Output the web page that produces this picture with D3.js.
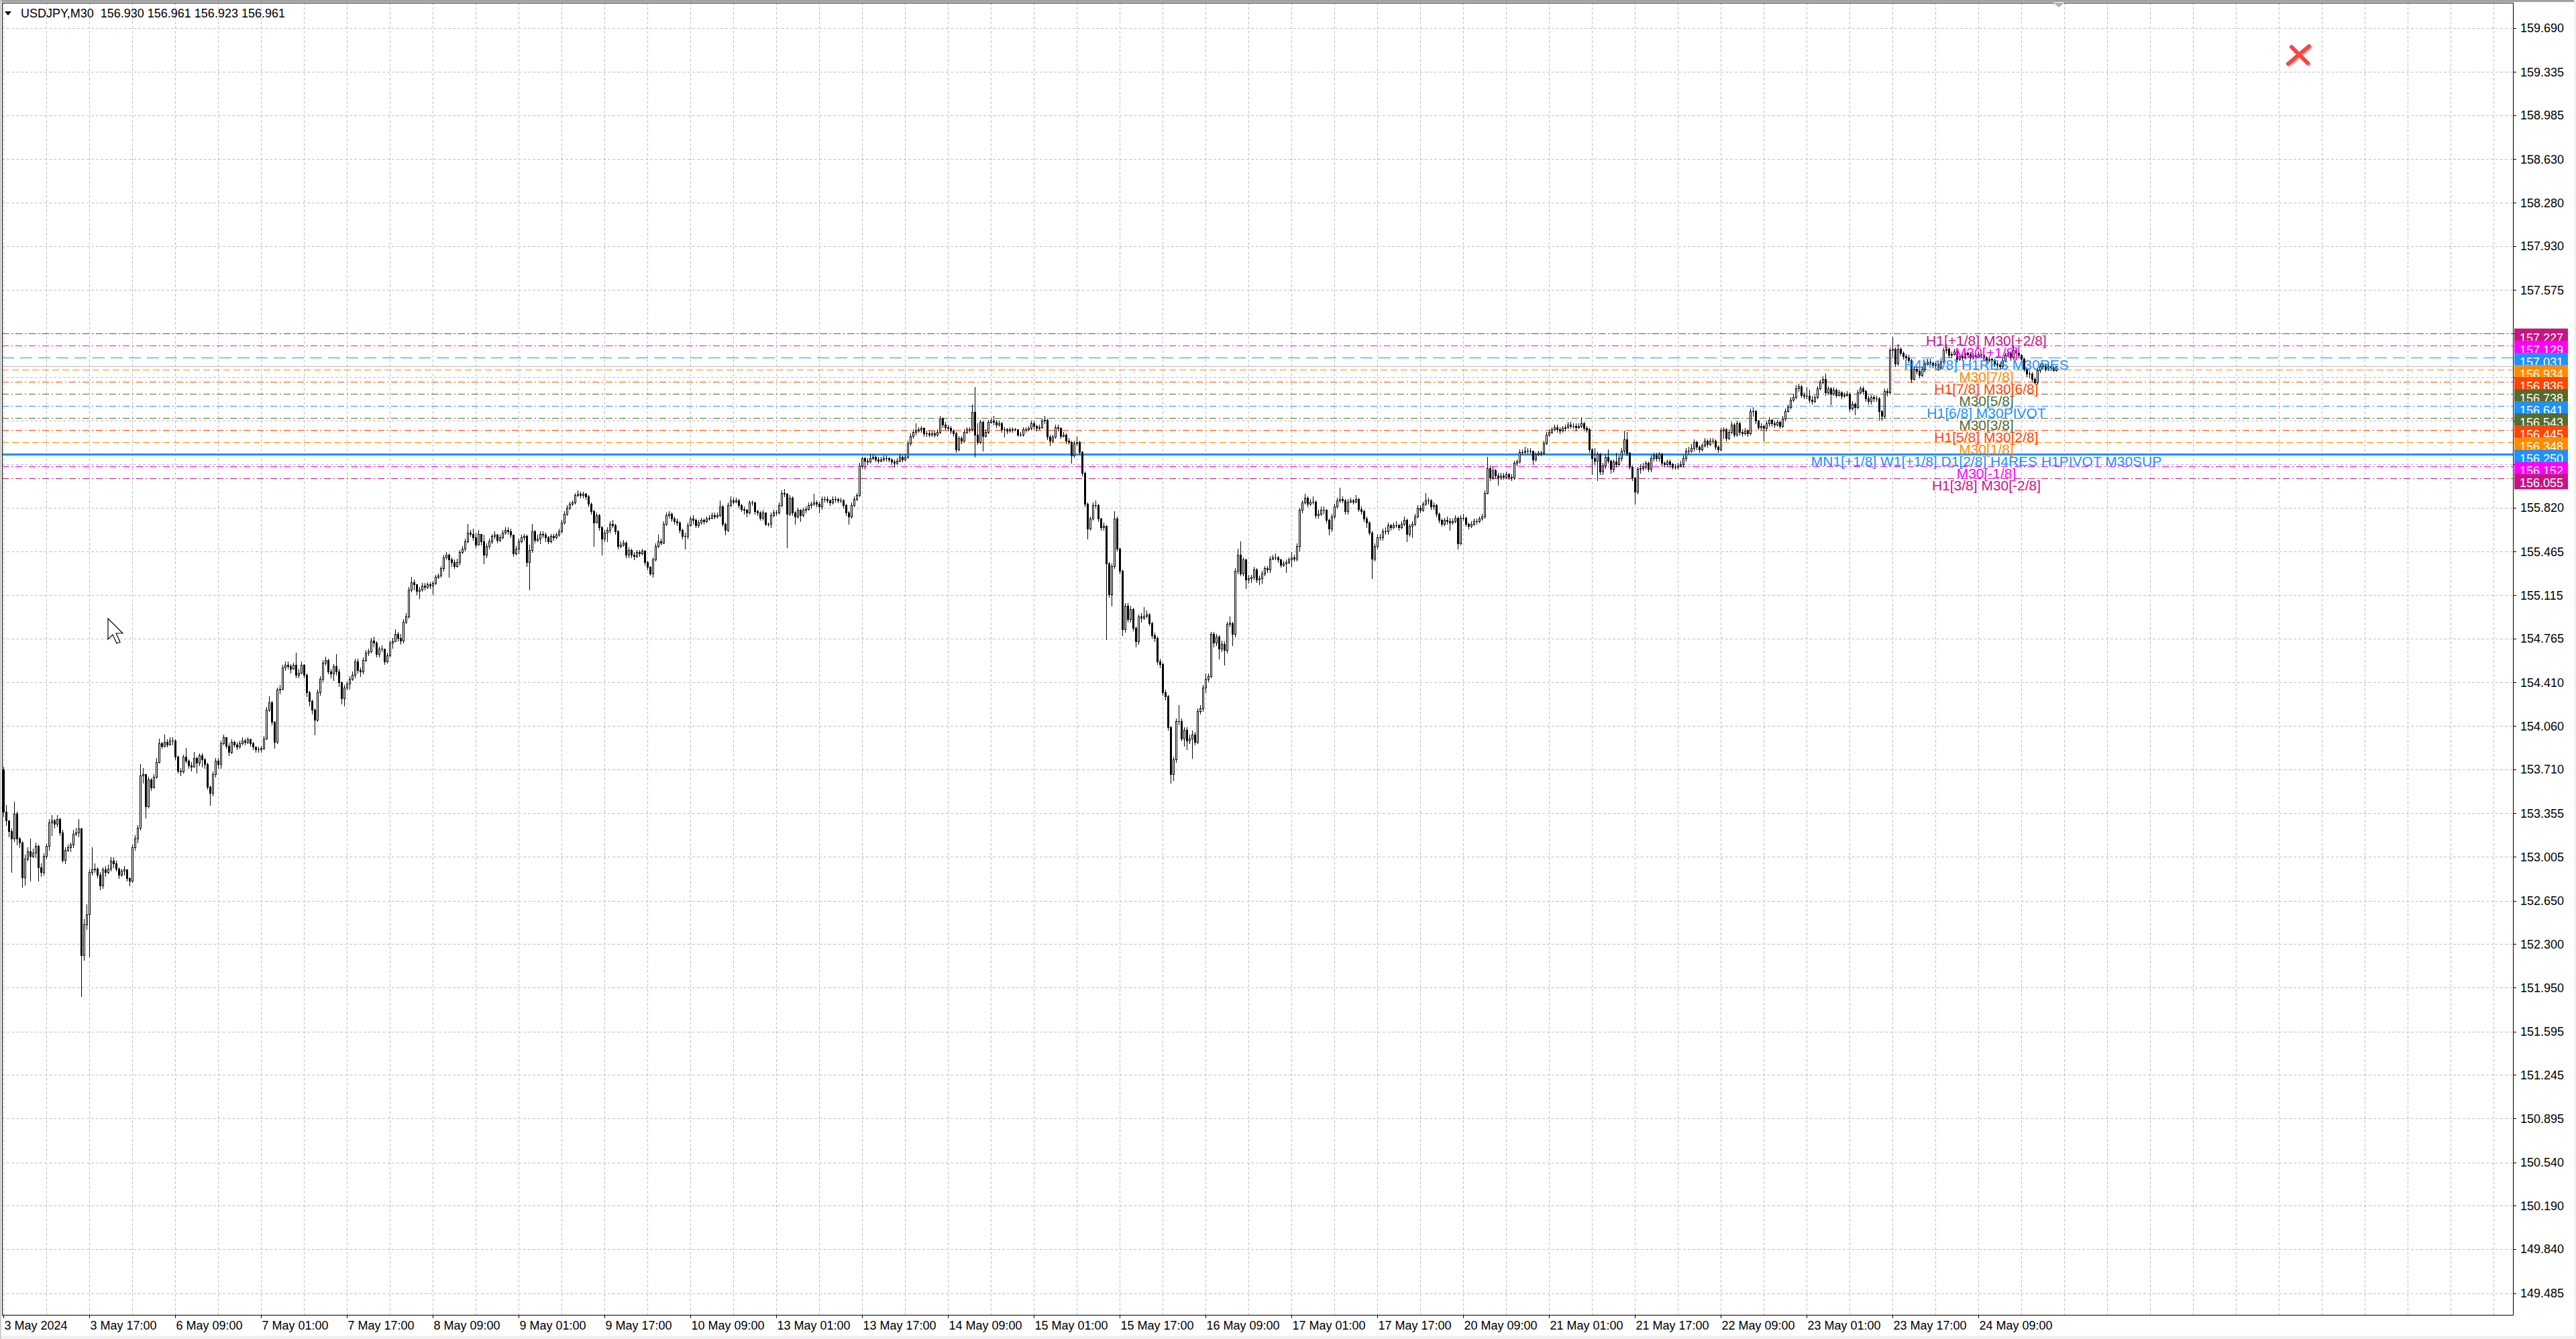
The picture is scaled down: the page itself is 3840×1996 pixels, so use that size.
<!DOCTYPE html>
<html><head><meta charset="utf-8">
<script src="https://cdn.jsdelivr.net/npm/d3@7"></script>
<style>html,body{margin:0;padding:0;background:#fff;} svg{display:block;} text{font-family:"Liberation Sans",Arial,sans-serif;}</style>
</head><body>
<script>
// ---------------- DATA ----------------
const symbolTitle = "USDJPY,M30";
const headerOHLC = ["156.930","156.961","156.923","156.961"];
const firstOpen = 153.71;
const closes = [
153.37,153.30,153.21,153.15,153.35,153.15,153.12,152.84,152.99,153.05,
153.01,153.04,153.09,152.92,152.88,153.01,153.09,153.28,153.30,153.27,
153.31,153.20,152.98,153.06,153.08,153.10,153.19,153.20,153.23,152.21,
152.46,152.54,152.88,152.90,152.91,152.86,152.77,152.90,152.88,152.91,
152.97,152.95,152.91,152.86,152.89,152.90,152.83,152.81,153.08,153.15,
153.24,153.66,153.67,153.41,153.63,153.56,153.65,153.77,153.92,153.90,
153.93,153.91,153.94,153.94,153.81,153.70,153.69,153.81,153.78,153.74,
153.73,153.80,153.76,153.82,153.79,153.75,153.57,153.52,153.67,153.78,
153.75,153.92,153.97,153.90,153.85,153.93,153.91,153.89,153.92,153.94,
153.93,153.95,153.92,153.89,153.87,153.87,153.88,153.96,154.19,154.25,
154.09,153.93,154.35,154.36,154.53,154.55,154.54,154.52,154.55,154.47,
154.49,154.55,154.47,154.33,154.26,154.19,154.11,154.33,154.44,154.57,
154.59,154.50,154.48,154.54,154.50,154.41,154.28,154.37,154.40,154.44,
154.47,154.58,154.51,154.50,154.59,154.65,154.66,154.75,154.73,154.64,
154.68,154.68,154.58,154.63,154.73,154.74,154.80,154.77,154.75,154.90,
154.94,155.16,155.22,155.20,155.15,155.16,155.19,155.18,155.20,155.19,
155.21,155.26,155.27,155.33,155.42,155.44,155.40,155.38,155.35,155.38,
155.46,155.49,155.55,155.62,155.61,155.58,155.52,155.61,155.55,155.44,
155.51,155.55,155.59,155.60,155.56,155.58,155.62,155.64,155.63,155.60,
155.45,155.49,155.55,155.58,155.59,155.38,155.48,155.63,155.56,155.57,
155.61,155.60,155.58,155.55,155.59,155.58,155.60,155.63,155.70,155.77,
155.82,155.85,155.86,155.92,155.93,155.92,155.93,155.91,155.85,155.79,
155.70,155.76,155.66,155.57,155.62,155.64,155.69,155.68,155.63,155.51,
155.52,155.54,155.44,155.48,155.44,155.43,155.46,155.45,155.47,155.38,
155.34,155.29,155.40,155.51,155.55,155.54,155.69,155.76,155.77,155.73,
155.71,155.70,155.64,155.59,155.59,155.68,155.73,155.72,155.68,155.70,
155.72,155.71,155.73,155.74,155.76,155.75,155.76,155.83,155.69,155.64,
155.84,155.88,155.87,155.88,155.84,155.81,155.80,155.78,155.86,155.86,
155.79,155.78,155.74,155.78,155.69,155.69,155.76,155.78,155.78,155.84,
155.94,155.93,155.77,155.90,155.78,155.75,155.80,155.76,155.80,155.81,
155.84,155.85,155.86,155.85,155.83,155.89,155.89,155.88,155.86,155.89,
155.89,155.88,155.88,155.84,155.78,155.75,155.84,155.89,155.92,156.16,
156.22,156.20,156.19,156.22,156.23,156.21,156.20,156.21,156.22,156.22,
156.21,156.19,156.18,156.20,156.23,156.21,156.23,156.34,156.40,156.43,
156.44,156.45,156.46,156.42,156.42,156.41,156.42,156.41,156.43,156.54,
156.49,156.47,156.46,156.44,156.42,156.29,156.38,156.36,156.43,156.45,
156.45,156.59,156.41,156.35,156.51,156.40,156.43,156.51,156.52,156.51,
156.49,156.50,156.45,156.45,156.44,156.45,156.45,156.45,156.41,156.41,
156.45,156.45,156.46,156.50,156.48,156.46,156.47,156.52,156.53,156.39,
156.36,156.39,156.47,156.46,156.40,156.41,156.36,156.35,156.24,156.34,
156.35,156.27,156.10,155.85,155.65,155.73,155.84,155.84,155.73,155.66,
155.67,155.37,155.12,155.35,155.73,155.49,155.31,154.84,155.03,154.92,
155.00,154.85,154.74,154.94,154.93,154.95,154.96,154.89,154.79,154.77,
154.58,154.56,154.33,154.30,154.05,153.67,153.79,154.10,154.10,153.96,
154.03,153.94,153.96,153.99,153.93,154.18,154.20,154.37,154.44,154.46,
154.80,154.73,154.78,154.68,154.72,154.67,154.88,154.89,154.80,155.31,
155.44,155.29,155.40,155.24,155.25,155.26,155.32,155.24,155.25,155.29,
155.33,155.32,155.41,155.42,155.42,155.40,155.36,155.37,155.38,155.40,
155.42,155.41,155.51,155.80,155.86,155.90,155.85,155.87,155.87,155.76,
155.77,155.80,155.80,155.72,155.65,155.75,155.83,155.88,155.89,155.88,
155.79,155.87,155.88,155.87,155.89,155.81,155.79,155.73,155.70,155.62,
155.41,155.51,155.58,155.58,155.63,155.63,155.68,155.66,155.68,155.68,
155.66,155.69,155.72,155.61,155.67,155.69,155.75,155.82,155.80,155.85,
155.88,155.88,155.83,155.84,155.77,155.72,155.69,155.72,155.71,155.70,
155.71,155.74,155.53,155.74,155.74,155.69,155.67,155.69,155.71,155.71,
155.73,155.75,155.94,156.14,156.06,156.12,156.08,156.06,156.08,156.07,
156.09,156.07,156.06,156.18,156.19,156.27,156.27,156.28,156.28,156.28,
156.21,156.25,156.26,156.26,156.34,156.41,156.43,156.45,156.47,156.45,
156.44,156.46,156.47,156.49,156.48,156.48,156.47,156.48,156.50,156.46,
156.45,156.29,156.22,156.20,156.25,156.11,156.16,156.23,156.20,156.13,
156.19,156.17,156.22,156.28,156.37,156.26,156.15,156.06,155.95,156.13,
156.14,156.15,156.18,156.13,156.22,156.24,156.22,156.25,156.18,156.17,
156.19,156.17,156.15,156.15,156.16,156.17,156.22,156.28,156.28,156.30,
156.35,156.31,156.29,156.32,156.36,156.33,156.36,156.36,156.31,156.29,
156.44,156.45,156.38,156.43,156.49,156.41,156.50,156.43,156.42,156.44,
156.42,156.60,156.60,156.52,156.47,156.48,156.46,156.50,156.53,156.50,
156.49,156.51,156.48,156.54,156.60,156.63,156.69,156.71,156.78,156.80,
156.73,156.72,156.72,156.69,156.68,156.71,156.78,156.83,156.86,156.75,
156.78,156.74,156.77,156.73,156.75,156.72,156.73,156.74,156.62,156.66,
156.63,156.75,156.78,156.76,156.70,156.68,156.71,156.70,156.70,156.60,
156.56,156.76,156.75,157.09,157.10,156.98,157.10,157.07,157.04,157.03,
157.01,156.86,156.94,156.92,156.89,156.94,156.98,157.00,156.99,156.97,
156.98,156.95,157.00,157.09,157.10,157.05,157.06,157.08,157.02,157.04,
157.03,157.07,157.06,157.03,157.05,157.04,157.06,157.05,157.03,157.01,
157.02,157.01,156.98,156.97,156.96,157.01,157.05,157.07,157.03,157.09,
157.07,157.05,157.02,156.94,156.90,156.90,156.86,156.83,156.93,156.96,
156.97,156.94,156.96,156.95,156.930,156.961];
const highs = [
153.73,153.42,153.30,153.23,153.45,153.37,153.16,153.13,153.02,153.08,
153.15,153.07,153.12,153.10,152.95,153.03,153.11,153.31,153.34,153.31,
153.34,153.32,153.22,153.08,153.10,153.12,153.22,153.24,153.31,153.24,
152.50,152.62,152.90,153.08,152.95,152.92,152.88,152.92,152.93,152.94,
153.00,153.00,152.97,152.92,152.91,152.93,152.88,152.84,153.10,153.18,
153.26,153.75,153.72,153.62,153.65,153.64,153.67,153.80,153.96,153.93,
153.99,153.95,153.97,153.97,153.95,153.82,153.72,153.83,153.88,153.79,
153.77,153.85,153.81,153.84,153.84,153.80,153.76,153.58,153.69,153.80,
153.80,153.94,153.99,153.97,153.92,153.95,153.94,153.93,153.94,153.97,
153.96,153.97,153.96,153.93,153.89,153.89,153.90,153.98,154.21,154.30,
154.26,154.10,154.37,154.39,154.55,154.58,154.58,154.56,154.57,154.65,
154.52,154.58,154.56,154.48,154.34,154.27,154.20,154.35,154.46,154.59,
154.62,154.60,154.52,154.56,154.64,154.52,154.42,154.39,154.42,154.46,
154.50,154.60,154.60,154.53,154.61,154.67,154.68,154.77,154.78,154.74,
154.70,154.71,154.68,154.65,154.75,154.77,154.84,154.82,154.80,154.92,
154.97,155.18,155.26,155.24,155.19,155.18,155.21,155.21,155.22,155.22,
155.23,155.28,155.29,155.35,155.44,155.46,155.45,155.42,155.40,155.41,
155.48,155.51,155.57,155.69,155.64,155.65,155.62,155.64,155.60,155.60,
155.53,155.57,155.61,155.63,155.61,155.60,155.64,155.66,155.66,155.65,
155.60,155.51,155.57,155.60,155.61,155.60,155.52,155.69,155.64,155.60,
155.63,155.63,155.62,155.59,155.61,155.61,155.62,155.65,155.72,155.79,
155.84,155.87,155.88,155.94,155.96,155.95,155.95,155.94,155.92,155.86,
155.80,155.78,155.77,155.67,155.64,155.66,155.71,155.72,155.69,155.64,
155.55,155.56,155.55,155.50,155.49,155.46,155.48,155.48,155.49,155.48,
155.39,155.35,155.42,155.53,155.60,155.57,155.71,155.78,155.79,155.78,
155.75,155.73,155.71,155.65,155.62,155.70,155.75,155.76,155.73,155.72,
155.74,155.73,155.75,155.76,155.78,155.78,155.78,155.88,155.84,155.70,
155.86,155.91,155.90,155.90,155.89,155.85,155.83,155.81,155.88,155.88,
155.87,155.80,155.79,155.80,155.78,155.70,155.78,155.80,155.80,155.86,
155.96,155.97,155.94,155.92,155.91,155.79,155.82,155.81,155.82,155.83,
155.86,155.87,155.93,155.88,155.87,155.91,155.91,155.91,155.89,155.91,
155.91,155.90,155.90,155.89,155.85,155.79,155.86,155.91,155.94,156.18,
156.23,156.23,156.22,156.25,156.25,156.24,156.23,156.23,156.24,156.24,
156.23,156.22,156.21,156.22,156.25,156.24,156.25,156.36,156.42,156.45,
156.50,156.47,156.48,156.47,156.44,156.44,156.44,156.44,156.45,156.56,
156.55,156.51,156.49,156.48,156.45,156.43,156.40,156.40,156.45,156.47,
156.47,156.65,156.79,156.50,156.53,156.52,156.45,156.53,156.54,156.56,
156.53,156.52,156.51,156.47,156.46,156.47,156.47,156.46,156.45,156.43,
156.47,156.47,156.48,156.52,156.52,156.49,156.49,156.54,156.56,156.54,
156.41,156.41,156.49,156.49,156.47,156.43,156.42,156.38,156.36,156.36,
156.39,156.36,156.28,156.11,155.86,155.75,155.86,155.88,155.85,155.74,
155.70,155.68,155.38,155.37,155.79,155.75,155.50,155.32,155.05,155.05,
155.03,155.01,154.86,154.96,154.97,155.02,154.99,154.97,154.90,154.81,
154.78,154.60,154.57,154.35,154.31,154.06,153.81,154.12,154.23,154.12,
154.05,154.05,153.99,154.02,154.01,154.20,154.23,154.39,154.48,154.48,
154.82,154.82,154.80,154.79,154.75,154.74,154.90,154.94,154.90,155.33,
155.49,155.55,155.42,155.41,155.28,155.28,155.34,155.33,155.27,155.31,
155.35,155.35,155.43,155.44,155.45,155.43,155.41,155.39,155.40,155.42,
155.46,155.44,155.53,155.82,155.88,155.93,155.91,155.89,155.91,155.88,
155.80,155.83,155.83,155.81,155.73,155.77,155.85,155.90,155.98,155.91,
155.89,155.89,155.90,155.89,155.92,155.90,155.83,155.80,155.75,155.71,
155.63,155.53,155.60,155.61,155.65,155.66,155.70,155.69,155.70,155.71,
155.69,155.71,155.75,155.73,155.69,155.71,155.77,155.84,155.84,155.87,
155.94,155.90,155.89,155.86,155.85,155.78,155.73,155.74,155.75,155.74,
155.73,155.76,155.75,155.76,155.77,155.75,155.70,155.71,155.73,155.73,
155.75,155.77,155.96,156.23,156.16,156.15,156.13,156.10,156.10,156.10,
156.11,156.10,156.09,156.20,156.21,156.29,156.29,156.31,156.30,156.30,
156.28,156.27,156.28,156.28,156.36,156.43,156.45,156.47,156.49,156.49,
156.47,156.48,156.49,156.51,156.51,156.50,156.50,156.50,156.55,156.51,
156.48,156.46,156.30,156.30,156.27,156.26,156.18,156.25,156.29,156.21,
156.21,156.26,156.24,156.30,156.44,156.43,156.27,156.16,156.07,156.15,
156.17,156.18,156.20,156.19,156.24,156.26,156.26,156.27,156.26,156.19,
156.21,156.21,156.18,156.17,156.18,156.20,156.24,156.30,156.31,156.33,
156.37,156.36,156.32,156.34,156.38,156.37,156.38,156.38,156.37,156.32,
156.46,156.47,156.46,156.45,156.51,156.50,156.52,156.51,156.45,156.46,
156.45,156.62,156.63,156.61,156.53,156.50,156.49,156.52,156.55,156.54,
156.52,156.53,156.52,156.56,156.62,156.65,156.71,156.74,156.81,156.82,
156.81,156.75,156.79,156.77,156.72,156.73,156.80,156.85,156.88,156.90,
156.80,156.79,156.79,156.78,156.77,156.76,156.75,156.76,156.75,156.68,
156.67,156.77,156.80,156.80,156.77,156.72,156.73,156.73,156.72,156.71,
156.61,156.78,156.78,157.11,157.20,157.11,157.14,157.11,157.08,157.06,
157.05,157.02,156.96,156.96,156.96,156.96,157.00,157.02,157.02,157.00,
157.00,156.99,157.02,157.11,157.14,157.11,157.08,157.10,157.09,157.06,
157.06,157.09,157.08,157.07,157.07,157.07,157.08,157.08,157.06,157.04,
157.04,157.03,157.02,157.00,156.99,157.03,157.07,157.09,157.08,157.13,
157.10,157.12,157.06,157.03,156.95,156.92,156.91,156.87,156.95,156.98,
156.99,156.98,156.98,156.97,156.96,156.961];
const lows = [
153.33,153.26,153.17,152.88,153.13,153.10,153.08,152.76,152.78,152.97,
152.81,153.00,153.00,152.81,152.85,152.86,152.99,153.06,153.18,153.24,
153.25,153.18,152.96,152.95,153.05,153.05,153.08,153.18,153.17,151.88,
152.17,152.42,152.20,152.86,152.88,152.84,152.74,152.75,152.85,152.87,
152.89,152.92,152.89,152.83,152.85,152.86,152.81,152.77,152.80,153.06,
153.12,153.22,153.60,153.32,153.40,153.54,153.57,153.64,153.76,153.88,
153.89,153.89,153.91,153.91,153.79,153.68,153.66,153.68,153.76,153.72,
153.70,153.75,153.68,153.74,153.73,153.72,153.55,153.42,153.50,153.65,
153.72,153.72,153.91,153.88,153.82,153.84,153.89,153.87,153.88,153.91,
153.91,153.92,153.90,153.87,153.85,153.85,153.85,153.87,153.95,154.18,
154.07,153.88,153.92,154.32,154.35,154.51,154.52,154.49,154.53,154.45,
154.45,154.48,154.45,154.30,154.22,154.16,153.99,154.10,154.31,154.42,
154.55,154.48,154.45,154.43,154.47,154.38,154.24,154.22,154.35,154.36,
154.43,154.45,154.49,154.46,154.48,154.58,154.63,154.65,154.70,154.62,
154.62,154.66,154.56,154.57,154.62,154.69,154.74,154.75,154.72,154.73,
154.89,154.93,155.14,155.16,155.12,155.09,155.15,155.16,155.17,155.17,
155.12,155.20,155.25,155.26,155.31,155.41,155.26,155.35,155.33,155.34,
155.36,155.45,155.47,155.54,155.59,155.56,155.50,155.57,155.52,155.37,
155.42,155.49,155.53,155.57,155.54,155.55,155.57,155.61,155.61,155.58,
155.43,155.44,155.45,155.54,155.56,155.35,155.16,155.46,155.54,155.55,
155.53,155.58,155.55,155.53,155.54,155.56,155.57,155.59,155.62,155.69,
155.76,155.81,155.84,155.85,155.91,155.90,155.90,155.89,155.83,155.77,
155.51,155.70,155.64,155.44,155.55,155.55,155.62,155.66,155.61,155.49,
155.50,155.51,155.42,155.42,155.42,155.40,155.42,155.43,155.44,155.36,
155.32,155.28,155.26,155.39,155.50,155.52,155.53,155.68,155.74,155.71,
155.69,155.68,155.62,155.57,155.49,155.57,155.67,155.69,155.66,155.66,
155.69,155.69,155.70,155.72,155.73,155.73,155.74,155.75,155.67,155.60,
155.63,155.83,155.85,155.86,155.82,155.79,155.77,155.75,155.77,155.84,
155.77,155.76,155.72,155.72,155.68,155.67,155.66,155.75,155.76,155.77,
155.83,155.91,155.50,155.76,155.76,155.69,155.74,155.71,155.75,155.78,
155.80,155.82,155.84,155.83,155.78,155.81,155.87,155.86,155.84,155.85,
155.87,155.86,155.86,155.82,155.76,155.69,155.74,155.83,155.88,155.91,
156.14,156.13,156.17,156.18,156.21,156.19,156.18,156.19,156.20,156.20,
156.19,156.17,156.15,156.17,156.19,156.19,156.20,156.22,156.32,156.38,
156.41,156.43,156.43,156.40,156.40,156.39,156.40,156.39,156.40,156.42,
156.47,156.45,156.44,156.42,156.40,156.27,156.28,156.34,156.35,156.42,
156.43,156.44,156.23,156.33,156.34,156.28,156.39,156.42,156.50,156.49,
156.47,156.48,156.43,156.39,156.42,156.43,156.43,156.44,156.40,156.40,
156.40,156.43,156.44,156.45,156.45,156.44,156.45,156.46,156.50,156.37,
156.32,156.35,156.38,156.44,156.38,156.39,156.34,156.33,156.18,156.23,
156.32,156.25,156.08,155.83,155.57,155.64,155.72,155.82,155.71,155.64,
155.64,154.76,155.10,155.03,155.33,155.47,155.29,154.79,154.82,154.90,
154.90,154.83,154.70,154.72,154.90,154.92,154.93,154.87,154.77,154.74,
154.56,154.53,154.31,154.27,154.03,153.60,153.62,153.77,154.07,153.94,
153.90,153.87,153.92,153.80,153.91,153.92,154.16,154.18,154.33,154.42,
154.45,154.70,154.71,154.60,154.66,154.55,154.65,154.86,154.71,154.78,
155.29,155.27,155.27,155.17,155.21,155.22,155.24,155.22,155.20,155.21,
155.27,155.30,155.30,155.40,155.40,155.38,155.34,155.35,155.30,155.37,
155.35,155.39,155.39,155.47,155.78,155.85,155.83,155.84,155.85,155.74,
155.74,155.76,155.77,155.70,155.60,155.63,155.73,155.82,155.86,155.86,
155.77,155.77,155.86,155.85,155.86,155.79,155.77,155.71,155.66,155.60,
155.25,155.39,155.49,155.56,155.56,155.61,155.61,155.64,155.65,155.66,
155.64,155.65,155.68,155.55,155.59,155.58,155.68,155.74,155.78,155.79,
155.84,155.85,155.81,155.81,155.75,155.70,155.67,155.68,155.69,155.64,
155.69,155.70,155.49,155.52,155.72,155.67,155.65,155.66,155.68,155.69,
155.70,155.72,155.74,155.93,156.04,156.05,156.06,156.00,156.05,156.05,
156.06,156.05,156.04,156.05,156.16,156.18,156.25,156.26,156.26,156.26,
156.17,156.20,156.24,156.24,156.25,156.33,156.40,156.42,156.44,156.43,
156.42,156.43,156.44,156.46,156.46,156.46,156.44,156.46,156.47,156.44,
156.43,156.27,156.09,156.17,156.04,156.09,156.09,156.14,156.18,156.10,
156.11,156.15,156.16,156.20,156.26,156.24,156.13,156.04,155.85,155.93,
156.10,156.12,156.13,156.11,156.11,156.20,156.20,156.20,156.16,156.15,
156.16,156.15,156.13,156.13,156.13,156.15,156.15,156.20,156.25,156.27,
156.28,156.29,156.27,156.28,156.31,156.31,156.32,156.34,156.29,156.27,
156.28,156.38,156.36,156.37,156.42,156.39,156.40,156.41,156.40,156.41,
156.40,156.41,156.56,156.50,156.45,156.45,156.36,156.44,156.48,156.48,
156.47,156.48,156.46,156.47,156.52,156.59,156.62,156.68,156.70,156.76,
156.71,156.70,156.70,156.67,156.66,156.67,156.70,156.77,156.82,156.73,
156.74,156.65,156.73,156.71,156.72,156.70,156.71,156.72,156.60,156.61,
156.57,156.62,156.74,156.74,156.68,156.66,156.66,156.68,156.68,156.53,
156.53,156.55,156.72,156.74,157.04,156.96,156.97,157.05,157.02,157.01,
156.99,156.83,156.85,156.90,156.87,156.88,156.93,156.97,156.97,156.95,
156.94,156.93,156.94,156.99,157.07,157.03,157.03,157.05,157.00,157.01,
157.01,157.02,157.04,157.01,157.02,157.02,157.03,157.03,157.01,156.99,
157.00,156.99,156.96,156.95,156.94,156.95,157.00,157.04,157.01,157.02,
157.05,157.03,157.00,156.92,156.88,156.87,156.84,156.82,156.82,156.91,
156.94,156.92,156.93,156.93,156.92,156.923];
const lastOpen = 156.930;

const priceTicks = [159.690,159.335,158.985,158.630,158.280,157.930,157.575,157.225,156.875,156.520,156.170,155.820,155.465,155.115,154.765,154.410,154.060,153.710,153.355,153.005,152.650,152.300,151.950,151.595,151.245,150.895,150.540,150.190,149.840,149.485];
const timeLabels = ["3 May 2024","3 May 17:00","6 May 09:00","7 May 01:00","7 May 17:00","8 May 09:00","9 May 01:00","9 May 17:00","10 May 09:00","13 May 01:00","13 May 17:00","14 May 09:00","15 May 01:00","15 May 17:00","16 May 09:00","17 May 01:00","17 May 17:00","20 May 09:00","21 May 01:00","21 May 17:00","22 May 09:00","23 May 01:00","23 May 17:00","24 May 09:00"];
const barsPerLabel = 32, barsPerGrid = 16;
const levelPrices = [157.227,157.129,157.031,156.934,156.836,156.738,156.641,156.543,156.445,156.348,156.250,156.152,156.055];
const levelNames = ["H1[+1/8] M30[+2/8]","M30[+1/8]","H4[+1/8] H1RES M30RES","M30[7/8]","H1[7/8] M30[6/8]","M30[5/8]","H1[6/8] M30PIVOT","M30[3/8]","H1[5/8] M30[2/8]","M30[1/8]","MN1[+1/8] W1[+1/8] D1[2/8] H4RES H1PIVOT M30SUP","M30[-1/8]","H1[3/8] M30[-2/8]"];
const levelLabelBar = 739;
const bidPrice = 156.961;

// ---------------- STYLES ----------------
const levelColors = ["#C71585","#FF00FF","#1E90FF","#FF8C00","#FF4500","#556B2F","#1E90FF","#556B2F","#FF4500","#FF8C00","#1E90FF","#FF00FF","#C71585"];
const levelDash = ["10,4,2,4","10,4,2,4","18,9","10,5","10,4,2,4","10,4,2,4","10,4,2,4","10,4,2,4","10,4,2,4","10,5",null,"10,4,2,4","10,4,2,4"];
const levelWidth = [1,1,1,1,1,1,1,1,1,1,3,1,1];

// ---------------- LAYOUT ----------------
const W = 3840, H = 1996;
const plotL = 3, plotT = 4, plotR = 3746, plotB = 1960;
const font = '"Liberation Sans", Arial, sans-serif';

const x = d3.scaleLinear().domain([0, 736]).range([5, 2949]);
const y = d3.scaleLinear().domain([149.485, 159.690]).range([1927.6, 41.5]);

const svg = d3.select("body").append("svg").attr("width", W).attr("height", H);
svg.append("rect").attr("width", W).attr("height", H).attr("fill", "#ffffff");
svg.append("rect").attr("x",0).attr("y",0).attr("width",W).attr("height",3).attr("fill","#a0a0a0");
svg.append("rect").attr("x",0).attr("y",1991).attr("width",W).attr("height",5).attr("fill","#f0f0f0");
svg.append("rect").attr("x",0).attr("y",0).attr("width",2).attr("height",H).attr("fill","#d0d0d0");
svg.append("rect").attr("x",3837).attr("y",0).attr("width",3).attr("height",H).attr("fill","#f0f0f0");

const g = svg.append("g");

// grid
const nBarsWide = Math.floor(x.invert(plotR));
const gridBars = d3.range(0, nBarsWide + 1, barsPerGrid).filter(b => x(b) < plotR);
g.selectAll("line.vg").data(gridBars).enter().append("line")
  .attr("x1", d => Math.round(x(d)) + 0.5).attr("x2", d => Math.round(x(d)) + 0.5)
  .attr("y1", plotT).attr("y2", plotB)
  .attr("stroke", "#c0c0c0").attr("stroke-width", 1).attr("stroke-dasharray", "4,3");
g.selectAll("line.hg").data(priceTicks).enter().append("line")
  .attr("x1", plotL).attr("x2", plotR)
  .attr("y1", d => Math.round(y(d)) + 0.5).attr("y2", d => Math.round(y(d)) + 0.5)
  .attr("stroke", "#c0c0c0").attr("stroke-width", 1).attr("stroke-dasharray", "4,3");

// level lines
levelPrices.forEach((p, i) => {
  const yy = Math.round(y(p)) + 0.5;
  const ln = g.append("line").attr("x1", plotL).attr("x2", plotR).attr("y1", yy).attr("y2", yy)
    .attr("stroke", levelColors[i]).attr("stroke-width", levelWidth[i]);
  if (levelDash[i]) ln.attr("stroke-dasharray", levelDash[i]);
});
g.append("line").attr("x1", plotL).attr("x2", plotR)
  .attr("y1", Math.round(y(bidPrice)) + 0.5).attr("y2", Math.round(y(bidPrice)) + 0.5)
  .attr("stroke", "#b8b8b8").attr("stroke-width", 1);

// candles
const bars = closes.map((c, i) => {
  const o = i === 0 ? firstOpen : (i === closes.length - 1 ? lastOpen : closes[i - 1]);
  return {i, o, c, h: Math.max(highs[i], o, c), l: Math.min(lows[i], o, c)};
});
const cg = g.append("g").attr("shape-rendering", "crispEdges");
bars.forEach(b => {
  const cx = Math.round(x(b.i));
  cg.append("line").attr("x1", cx + 0.5).attr("x2", cx + 0.5)
    .attr("y1", Math.round(y(b.h))).attr("y2", Math.round(y(b.l)) + 1)
    .attr("stroke", "#000").attr("stroke-width", 1);
  const yTop = Math.round(y(Math.max(b.o, b.c)));
  const yBot = Math.round(y(Math.min(b.o, b.c)));
  const bull = b.c >= b.o;
  cg.append("rect").attr("x", cx - 0.5).attr("y", yTop + 0.5)
    .attr("width", 2).attr("height", Math.max(yBot - yTop, 0.01))
    .attr("fill", bull ? "#ffffff" : "#000000").attr("stroke", "#000").attr("stroke-width", 1);
});

// level labels on chart
levelPrices.forEach((p, i) => {
  g.append("text").attr("x", x(levelLabelBar)).attr("y", y(p) + 18)
    .attr("text-anchor", "middle").attr("font-family", font).attr("font-size", 21)
    .attr("fill", levelColors[i]).text(levelNames[i]);
});

// axes frame
svg.append("line").attr("x1", plotL + 0.5).attr("x2", plotL + 0.5).attr("y1", plotT).attr("y2", plotB).attr("stroke", "#000");
svg.append("line").attr("x1", plotL).attr("x2", plotR).attr("y1", plotT + 0.5).attr("y2", plotT + 0.5).attr("stroke", "#000");
svg.append("line").attr("x1", plotR + 0.5).attr("x2", plotR + 0.5).attr("y1", plotT).attr("y2", plotB + 1).attr("stroke", "#000");
svg.append("line").attr("x1", plotL).attr("x2", plotR + 1).attr("y1", plotB + 0.5).attr("y2", plotB + 0.5).attr("stroke", "#000");

// right axis (tick labels covered by the level boxes are not visible, so skip them)
const boxTop = y(d3.max(levelPrices)) - 7, boxBot = y(d3.min(levelPrices)) + 16;
const ra = svg.append("g");
priceTicks.forEach(p => {
  const yy = Math.round(y(p)) + 0.5;
  ra.append("line").attr("x1", plotR).attr("x2", plotR + 5).attr("y1", yy).attr("y2", yy).attr("stroke", "#000");
  if (y(p) > boxTop - 8 && y(p) < boxBot + 8) return;
  ra.append("text").attr("x", plotR + 11).attr("y", y(p) + 6.5).attr("font-family", font).attr("font-size", 18)
    .attr("fill", "#000").text(p.toFixed(3));
});
levelPrices.forEach((p, i) => {
  const yy = y(p);
  ra.append("rect").attr("x", plotR + 2).attr("y", yy - 7).attr("width", 80).attr("height", 23)
    .attr("fill", levelColors[i]);
  ra.append("text").attr("x", plotR + 10).attr("y", yy + 13).attr("font-family", font).attr("font-size", 18)
    .attr("fill", "#ffffff").text(p.toFixed(3));
});

// bottom axis
const ba = svg.append("g");
timeLabels.forEach((t, k) => {
  const xx = Math.round(x(k * barsPerLabel)) + 0.5;
  ba.append("line").attr("x1", xx).attr("x2", xx).attr("y1", plotB).attr("y2", plotB + 5).attr("stroke", "#000");
  ba.append("text").attr("x", xx + 1).attr("y", 1982).attr("font-family", font).attr("font-size", 18)
    .attr("fill", "#000").text(t);
});

// header
svg.append("path").attr("d", "M7,17 L17,17 L12,23 Z").attr("fill", "#000");
svg.append("text").attr("x", 31).attr("y", 26).attr("font-family", font).attr("font-size", 18)
  .attr("fill", "#000").attr("xml:space", "preserve").style("white-space", "pre")
  .text(symbolTitle + "  " + headerOHLC.join(" "));

// chart shift marker
const sx = x(closes.length);
svg.append("path").attr("d", `M${sx - 8},4 L${sx + 8},4 L${sx},11 Z`).attr("fill", "#b0b0b0");

// close icon (red X)
const xi = svg.append("g").attr("stroke-linecap", "round");
xi.append("line").attr("x1", 3413).attr("y1", 97).attr("x2", 3444).attr("y2", 71).attr("stroke", "#c8c8c8").attr("stroke-width", 6);
xi.append("line").attr("x1", 3418).attr("y1", 72).attr("x2", 3442).attr("y2", 96).attr("stroke", "#c8c8c8").attr("stroke-width", 6);
xi.append("line").attr("x1", 3411).attr("y1", 95).attr("x2", 3442).attr("y2", 69).attr("stroke", "#f84444").attr("stroke-width", 6);
xi.append("line").attr("x1", 3416).attr("y1", 70).attr("x2", 3440).attr("y2", 94).attr("stroke", "#f84444").attr("stroke-width", 6);

// mouse cursor
svg.append("path").attr("transform", "translate(160,921) scale(2)")
  .attr("d", "M0.5,0.5 L0.5,16 L4,12.5 L7,19 L9.5,18 L6.5,11.5 L11.5,11.5 Z")
  .attr("fill", "#fff").attr("stroke", "#000").attr("stroke-width", 0.6);
</script>
</body></html>
